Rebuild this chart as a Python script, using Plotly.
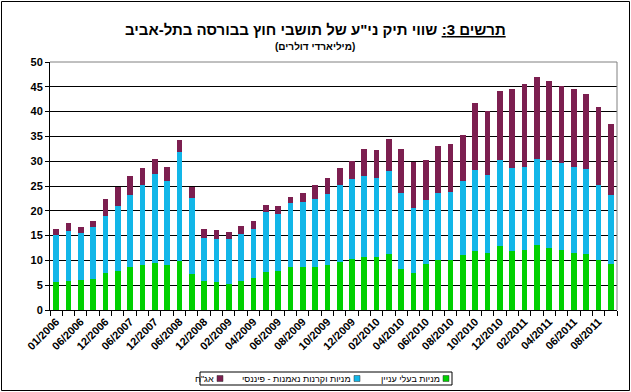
import plotly.graph_objects as go

categories = ["01/2006", "03/2006", "06/2006", "09/2006", "12/2006", "03/2007", "06/2007", "09/2007",
              "12/2007", "03/2008", "06/2008", "09/2008", "12/2008",
              "01/2009", "02/2009", "03/2009", "04/2009", "05/2009", "06/2009", "07/2009", "08/2009",
              "09/2009", "10/2009", "11/2009", "12/2009",
              "01/2010", "02/2010", "03/2010", "04/2010", "05/2010", "06/2010", "07/2010", "08/2010",
              "09/2010", "10/2010", "11/2010", "12/2010",
              "01/2011", "02/2011", "03/2011", "04/2011", "05/2011", "06/2011", "07/2011", "08/2011",
              "09/2011"]

insiders = [5.6, 5.9, 6.1, 6.2, 7.5, 7.9, 8.7, 9.0, 9.5, 9.0, 9.8, 7.3, 5.9,
            5.6, 5.2, 5.9, 6.4, 7.6, 7.8, 8.6, 8.6, 8.6, 9.0, 9.6, 10.2,
            10.6, 10.6, 11.2, 8.3, 7.4, 9.2, 10.0, 10.0, 11.0, 11.8, 11.4, 12.9,
            11.8, 12.1, 13.1, 12.6, 12.0, 11.5, 11.3, 10.0, 9.2]
financial = [9.5, 10.1, 9.4, 10.6, 11.5, 13.1, 14.5, 16.3, 18.0, 17.1, 22.1, 15.3, 8.7,
             8.7, 9.1, 9.4, 10.0, 12.1, 11.6, 13.0, 13.2, 13.8, 14.4, 15.6, 16.3,
             16.5, 16.0, 16.8, 15.3, 13.2, 12.9, 13.6, 13.7, 15.0, 16.4, 15.8, 17.4,
             16.8, 16.8, 17.3, 17.6, 17.6, 17.3, 17.2, 15.3, 13.9]
bonds = [1.2, 1.5, 1.2, 1.1, 3.3, 3.7, 3.9, 3.3, 3.0, 2.7, 2.4, 2.1, 1.7,
         1.9, 1.5, 1.6, 1.6, 1.5, 1.6, 1.1, 1.8, 2.8, 3.2, 3.5, 3.6,
         5.4, 5.7, 6.4, 8.8, 9.3, 8.2, 9.5, 9.7, 9.3, 13.6, 12.9, 13.9,
         16.0, 16.7, 16.5, 16.0, 15.6, 15.8, 15.1, 15.6, 14.5]

series_names = ["מניות בעלי עניין", "מניות וקרנות נאמנות - פיננסי", 'אג"ח']
series_values = [insiders, financial, bonds]
series_colors = ["#00D000", "#12B6E8", "#7C1F50"]

title_main = '<b><u>תרשים 3:</u> שווי תיק ני"ע של תושבי חוץ בבורסה בתל-אביב</b>'
title_sub = "<b>(מיליארדי דולרים)</b>"

W, H = 631, 392
L, R, T, B = 50, 14, 62, 82
PW, PH = W - L - R, H - T - B


def px(x):
    return (x - L) / PW


def py(y):
    return (H - B - y) / PH


FONT = "Liberation Sans, Arial, sans-serif"
xs = list(range(len(categories)))

fig = go.Figure()
for name, vals, col in zip(series_names, series_values, series_colors):
    fig.add_trace(go.Bar(x=xs, y=vals, name=name, width=0.46,
                         marker=dict(color=col, line=dict(width=0)),
                         showlegend=False, hoverinfo="skip"))

fig.update_layout(
    barmode="stack",
    width=W, height=H,
    margin=dict(l=L, r=R, t=T, b=B, autoexpand=False),
    paper_bgcolor="white", plot_bgcolor="white",
    font=dict(family=FONT, color="black"),
)

fig.update_xaxes(
    range=[-0.5, len(categories) - 0.5],
    tickmode="array", tickvals=xs[::2], ticktext=categories[::2],
    tickangle=-45, ticks="", showgrid=False,
    tickfont=dict(size=11, weight="bold", family=FONT),
    showline=True, linecolor="black", linewidth=1,
    minor=dict(tickmode="array", tickvals=[i - 0.5 for i in range(len(categories) + 1)],
               ticks="outside", ticklen=5, tickcolor="black", showgrid=False),
    zeroline=False, automargin=False,
)
fig.update_yaxes(
    range=[0, 50], dtick=5, tick0=0,
    showgrid=True, gridcolor="black", gridwidth=1,
    ticks="outside", ticklen=4, tickcolor="black",
    tickfont=dict(size=11, weight="bold", family=FONT),
    showline=True, linecolor="black", linewidth=1,
    zeroline=False, automargin=False,
)

shapes = []
# plot-area border (top and right gray)
shapes.append(dict(type="line", xref="paper", yref="paper", x0=0, x1=1, y0=1, y1=1,
                   line=dict(color="#808080", width=1)))
shapes.append(dict(type="line", xref="paper", yref="paper", x0=1, x1=1, y0=0, y1=1,
                   line=dict(color="#808080", width=1)))
# outer chart frame
shapes.append(dict(type="rect", xref="paper", yref="paper",
                   x0=px(1.5), x1=px(629.5), y0=py(390.5), y1=py(1.5),
                   line=dict(color="black", width=1), fillcolor="rgba(0,0,0,0)"))
# legend box
shapes.append(dict(type="rect", xref="paper", yref="paper",
                   x0=px(200), x1=px(452), y0=py(385), y1=py(372),
                   line=dict(color="black", width=1), fillcolor="white"))

annotations = [
    dict(text=title_main, xref="paper", yref="paper", x=px(315), y=py(30),
         xanchor="center", yanchor="middle", showarrow=False,
         font=dict(size=15, family=FONT)),
    dict(text=title_sub, xref="paper", yref="paper", x=px(315), y=py(47),
         xanchor="center", yanchor="middle", showarrow=False,
         font=dict(size=10, family=FONT)),
]

# manual right-to-left legend: square at right, text to its left
legend_square_right = [449, 360, 223]
for name, col, sx in zip(series_names, series_colors, legend_square_right):
    shapes.append(dict(type="rect", xref="paper", yref="paper",
                       x0=px(sx - 6), x1=px(sx), y0=py(381.5), y1=py(375.5),
                       line=dict(color="#333333", width=0.5), fillcolor=col))
    annotations.append(dict(text=name, xref="paper", yref="paper", x=px(sx - 7), y=py(378.5),
                            xanchor="right", yanchor="middle", showarrow=False,
                            font=dict(size=9, family=FONT)))

fig.update_layout(shapes=shapes, annotations=annotations)
fig.write_html("out.html", config={"displayModeBar": False},
               post_script="document.body.style.margin='0';document.body.style.overflow='hidden';")
